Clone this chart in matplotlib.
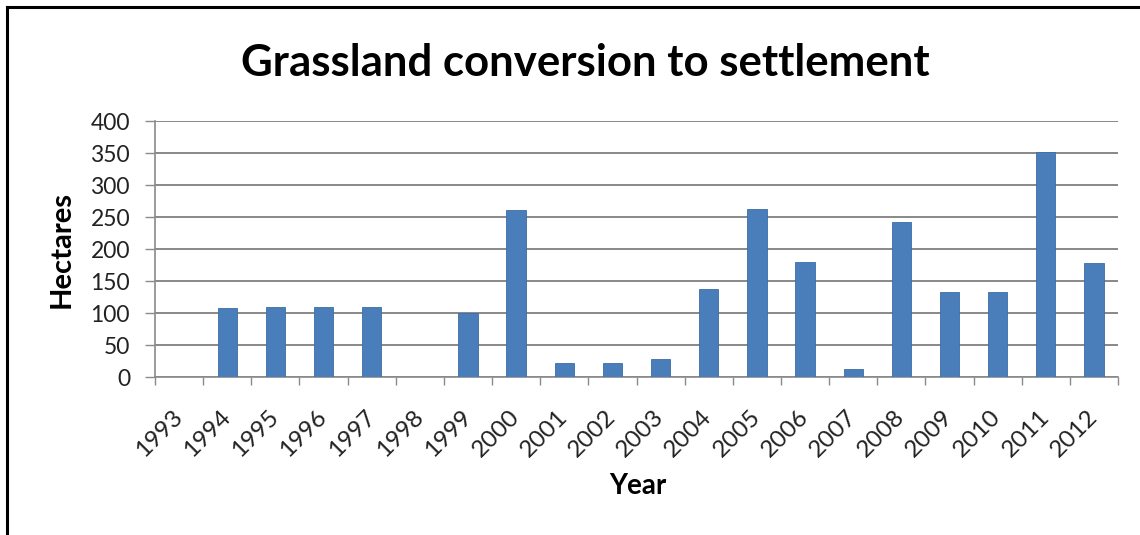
import matplotlib
matplotlib.use("Agg")
import matplotlib.pyplot as plt
from matplotlib.lines import Line2D
from matplotlib.transforms import ScaledTranslation
import numpy as np

years = ["1993", "1994", "1995", "1996", "1997", "1998", "1999", "2000", "2001", "2002",
         "2003", "2004", "2005", "2006", "2007", "2008", "2009", "2010", "2011", "2012"]
hectares = [0, 108, 110, 110, 110, 0, 101, 261, 23, 23,
            28, 138, 263, 180, 13, 243, 133, 133, 351, 178]
y_ticks = [0, 50, 100, 150, 200, 250, 300, 350, 400]

plt.rcParams["font.family"] = ["Lato", "DejaVu Sans"]

W, H = 1140, 535
fig = plt.figure(figsize=(W / 100, H / 100), dpi=100)
fig.patch.set_facecolor("white")

ax = fig.add_axes([155 / W, 1 - 377.3 / H, (1118 - 155) / W, (377.3 - 121) / H])

x = np.arange(len(years))
ax.bar(x, hectares, width=0.4, color="#4A7EBB", edgecolor="#3D6DA6", linewidth=0.6, zorder=3)

ax.set_xlim(-0.5, len(years) - 0.5)
ax.set_ylim(0, 400)
ax.set_yticks(y_ticks)
ax.set_yticklabels([str(v) for v in y_ticks], fontsize=16.5, color="#222222")
ax.yaxis.grid(True, color="#7f7f7f", linewidth=1.3, zorder=0)
ax.set_axisbelow(True)

# category tick marks sit between bars
ax.set_xticks(np.arange(-0.5, len(years), 1.0))
ax.set_xticklabels([])
ax.set_xticks(x, minor=True)
ax.set_xticklabels(years, minor=True, rotation=45, ha="right", va="center",
                   rotation_mode="anchor", fontsize=17.5, color="#222222")
shift = ScaledTranslation(6 / 100, 0, fig.dpi_scale_trans)
for lbl in ax.get_xticklabels(minor=True):
    lbl.set_transform(lbl.get_transform() + shift)
ax.tick_params(axis="x", which="major", length=6, width=1.0, color="#8a8a8a", direction="out")
ax.tick_params(axis="x", which="minor", length=0, pad=26)
ax.tick_params(axis="y", length=7, width=1.0, color="#8a8a8a", pad=11)

for side in ("top", "right"):
    ax.spines[side].set_visible(False)
for side in ("left", "bottom"):
    ax.spines[side].set_color("#8a8a8a")
    ax.spines[side].set_linewidth(1.2)

fig.text(585 / W, 1 - 63 / H, "Grassland conversion to settlement", ha="center", va="center",
         fontsize=31.5, fontweight="bold", color="black")
fig.text(62 / W, 1 - 250 / H, "Hectares", ha="center", va="center", rotation=90,
         fontsize=21, fontweight="bold", color="black")
fig.text(638 / W, 1 - 486 / H, "Year", ha="center", va="center",
         fontsize=20, fontweight="bold", color="black")

# outer frame lines along the left and top edges
fig.add_artist(Line2D([7 / W, 7 / W], [0, 1 - 7 / H], transform=fig.transFigure,
                      color="black", linewidth=2.2))
fig.add_artist(Line2D([7 / W, 1], [1 - 7 / H, 1 - 7 / H], transform=fig.transFigure,
                      color="black", linewidth=2.2))

fig.savefig("out.png", dpi=100, facecolor="white")
